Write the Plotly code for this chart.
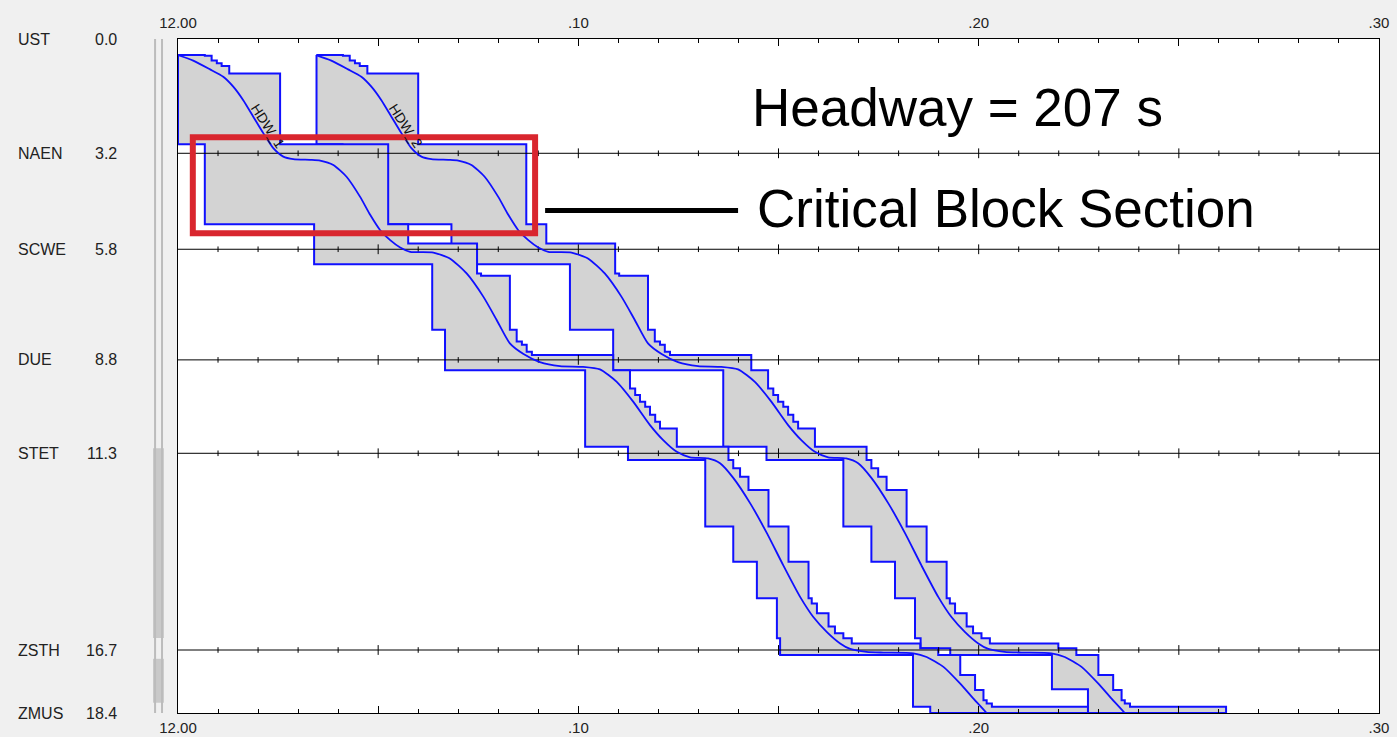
import plotly.graph_objects as go

# ---------------- data ----------------
stations = ["UST", "NAEN", "SCWE", "DUE", "STET", "ZSTH", "ZMUS"]
station_km_label = ["0.0", "3.2", "5.8", "8.8", "11.3", "16.7", "18.4"]
station_pos = [0.0, 3.12, 5.74, 8.76, 11.31, 16.68, 18.40]   # km, drawn position

time_ticks = [0, 5, 10, 15, 20, 25, 30]          # minutes after 12:00
time_tick_text = ["12.00", "", ".10", "", ".20", "", ".30"]

headway_s = 207
headway_min = headway_s / 60.0

# blocking time stairs, train HDW_1 : start of blocking (left side)
t1_left_km = [0.44, 2.87, 5.06, 6.15, 7.94, 9.04, 11.13, 11.49, 13.31, 14.27, 15.27,
              16.36, 16.82, 18.23, 18.40]
t1_left_t = [0.00, 0.67, 3.40, 6.35, 6.67, 10.17, 11.24, 13.17, 13.87, 14.46, 14.96,
             15.04, 18.36, 18.79]
# end of blocking / release (right side)
t1_right_km = [0.44, 0.46, 0.59, 0.66, 0.74, 0.94, 2.87, 5.06, 5.58, 6.40, 6.46,
               7.94, 8.26, 8.35, 8.54, 8.63, 9.04, 9.54, 9.72, 9.90, 10.04,
               10.26, 10.45, 10.63, 11.13, 11.49, 11.72, 11.95, 12.31, 13.31, 14.27,
               15.27, 15.41, 15.68, 16.04, 16.22, 16.36, 16.50, 16.63, 16.82, 17.36,
               17.77, 18.05, 18.14, 18.23, 18.40]
t1_right_t = [0.67, 0.84, 0.97, 1.09, 1.28, 2.55, 5.25, 5.75, 7.47, 7.57,
              8.29, 8.46, 8.59, 8.71, 8.84, 10.87, 11.29, 11.42, 11.54, 11.67,
              11.79, 11.92, 12.04, 12.46, 13.75, 13.87, 14.04, 14.25, 14.75, 15.25,
              15.75, 15.83, 15.96, 16.25, 16.41, 16.62, 16.83, 18.54, 18.99, 19.54,
              19.91, 20.12, 20.20, 20.33, 22.73]

# train HDW_2 : start of blocking (left side); release = train 1 + headway
t2_left_km = [0.44, 2.87, 5.06, 6.15, 7.94, 9.04, 11.13, 11.49, 13.31, 14.27, 15.27,
              16.36, 16.63, 16.82, 17.75, 18.40]
t2_left_t = [3.46, 4.11, 6.83, 9.79, 10.87, 13.62, 14.70, 16.62, 17.32, 17.91, 18.41,
             18.55, 19.29, 21.83, 22.73]

# running line of train HDW_1 (minutes, km)
run_t = [0.00, 0.38, 0.80, 1.13, 1.38, 1.63, 1.88, 2.13, 2.38, 2.63, 2.88, 3.30, 3.55,
         3.88, 4.21, 4.55, 4.80, 5.05, 5.30, 5.55, 5.80, 6.38, 6.79, 7.21, 7.63, 7.96,
         8.29, 8.63, 9.04, 9.54, 10.12, 10.54, 10.96, 11.37, 11.79, 12.12, 12.46, 12.79,
         13.24, 13.54, 13.87, 14.29, 14.71, 15.12, 15.54, 15.87, 16.21, 16.54, 16.79,
         17.20, 17.62, 18.37, 18.70, 19.12, 19.54, 19.87, 20.20]
run_km = [0.44, 0.59, 0.83, 1.03, 1.30, 1.67, 2.12, 2.57, 2.98, 3.21, 3.28, 3.30, 3.32,
          3.44, 3.76, 4.31, 4.80, 5.22, 5.49, 5.69, 5.81, 5.83, 5.99, 6.40, 7.04, 7.67,
          8.31, 8.60, 8.82, 8.93, 8.95, 9.02, 9.36, 9.90, 10.54, 10.95, 11.27, 11.42,
          11.45, 11.58, 11.98, 12.67, 13.49, 14.37, 15.23, 15.78, 16.19, 16.50, 16.65,
          16.73, 16.75, 16.77, 16.87, 17.14, 17.60, 18.01, 18.40]

train_names = ["HDW_1", "HDW_2"]
critical_section_km = (2.87, 5.06)

# track bars beside the station column (km ranges)
track_bars_km = [(11.17, 16.35), (16.92, 18.12)]

# ---------------- helpers ----------------
def stair_polygon(lkm, lt, rkm, rt):
    xs, ys = [], []
    for i, t in enumerate(lt):
        xs += [t, t]
        ys += [lkm[i], lkm[i + 1]]
    for j in range(len(rt) - 1, -1, -1):
        xs += [rt[j], rt[j]]
        ys += [rkm[j + 1], rkm[j]]
    xs.append(xs[0])
    ys.append(ys[0])
    return xs, ys

t2_right_t = [t + headway_min for t in t1_right_t]

BLUE = "#1010ff"
GREY = "#d3d3d3"
FONT = "Liberation Sans"

fig = go.Figure()

# train 2 stairs first, train 1 on top
for lkm, lt, rt in [(t2_left_km, t2_left_t, t2_right_t), (t1_left_km, t1_left_t, t1_right_t)]:
    xs, ys = stair_polygon(lkm, lt, t1_right_km, rt)
    fig.add_trace(go.Scatter(x=xs, y=ys, mode="lines", fill="toself", fillcolor=GREY,
                             line=dict(color=BLUE, width=2), hoverinfo="skip",
                             showlegend=False))

# station lines with minute ticks
inner = station_pos[1:-1]
lx, ly = [], []
for km in inner:
    lx += [0, 30, None]
    ly += [km, km, None]
fig.add_trace(go.Scatter(x=lx, y=ly, mode="lines", line=dict(color="black", width=1),
                         hoverinfo="skip", showlegend=False))
minor_x, minor_y, major_x, major_y = [], [], [], []
for km in inner:
    for m in range(1, 30):
        if m % 5 == 0:
            major_x.append(m); major_y.append(km)
        else:
            minor_x.append(m); minor_y.append(km)
fig.add_trace(go.Scatter(x=minor_x, y=minor_y, mode="markers",
                         marker=dict(symbol="line-ns", size=4, line=dict(color="black", width=1)),
                         hoverinfo="skip", showlegend=False))
fig.add_trace(go.Scatter(x=major_x, y=major_y, mode="markers",
                         marker=dict(symbol="line-ns", size=7, line=dict(color="black", width=1)),
                         hoverinfo="skip", showlegend=False))

# running lines
for k in range(2):
    fig.add_trace(go.Scatter(x=[t + k * headway_min for t in run_t], y=run_km, mode="lines",
                             line=dict(color=BLUE, width=1.8, shape="spline", smoothing=0.6),
                             hoverinfo="skip", showlegend=False))

# dummy trace for top axis
fig.add_trace(go.Scatter(x=[0, 30], y=[0, 0], xaxis="x2", mode="lines",
                         line=dict(width=0), hoverinfo="skip", showlegend=False))

annotations = []
for name, lab, km in zip(stations, station_km_label, station_pos):
    annotations.append(dict(x=-0.1349, xref="paper", y=km, yref="y", text=name,
                            xanchor="left", yanchor="middle", showarrow=False,
                            font=dict(family=FONT, size=16, color="#222")))
    annotations.append(dict(x=-0.0491, xref="paper", y=km, yref="y", text=lab,
                            xanchor="right", yanchor="middle", showarrow=False,
                            font=dict(family=FONT, size=16, color="#222")))
for k, nm in enumerate(train_names):
    annotations.append(dict(x=2.24 + k * headway_min, y=2.38, text=nm, textangle=57,
                            showarrow=False, font=dict(family=FONT, size=14, color="#111")))
annotations.append(dict(x=14.29, y=1.88, text="Headway = 207 s", xanchor="left",
                        yanchor="middle", showarrow=False,
                        font=dict(family=FONT, size=53, color="black")))
annotations.append(dict(x=14.41, y=4.62, text="Critical Block Section", xanchor="left",
                        yanchor="middle", showarrow=False,
                        font=dict(family=FONT, size=53, color="black")))

# critical block box (derived from the critical section blocks)
box_t0 = t1_left_t[1] - 0.30
box_t1 = t2_right_t[6] + 0.22
box_km0 = critical_section_km[0] - 0.19
box_km1 = critical_section_km[1] + 0.24

shapes = []
for a, b in track_bars_km:
    shapes.append(dict(type="rect", xref="paper", yref="y", x0=-0.0208, x1=-0.0117,
                       y0=a, y1=b, fillcolor="#c9c9c9", line=dict(width=0), layer="below"))
for px in (-0.0191, -0.0133):
    shapes.append(dict(type="line", xref="paper", yref="y", x0=px, x1=px, y0=-0.03, y1=18.4,
                       line=dict(color="#bcbcbc", width=2)))
shapes.append(dict(type="rect", xref="x", yref="y", x0=box_t0, x1=box_t1, y0=box_km0,
                   y1=box_km1, line=dict(color="#d9262e", width=6), layer="above"))
shapes.append(dict(type="line", xref="x", yref="y", x0=box_t1 + 0.25, x1=13.99, y0=4.68,
                   y1=4.68, line=dict(color="black", width=5), layer="above"))

axis_common = dict(range=[0, 30], tickmode="array", tickvals=time_ticks,
                   ticktext=time_tick_text, ticks="inside", ticklen=7, tickcolor="black",
                   showgrid=False, zeroline=False, automargin=False,
                   tickfont=dict(family=FONT, size=15, color="#222"),
                   minor=dict(ticks="inside", dtick=1, tick0=0, ticklen=4,
                              tickcolor="black", showgrid=False))

fig.update_layout(
    width=1397, height=737,
    margin=dict(l=178, r=18, t=39, b=24, autoexpand=False),
    paper_bgcolor="#f0f0f0", plot_bgcolor="white",
    xaxis=dict(**axis_common, showline=True, linecolor="black", linewidth=1, mirror=True,
               ticklabelstandoff=1),
    xaxis2=dict(**axis_common, overlaying="x", side="top", showline=False,
                ticklabelstandoff=7),
    yaxis=dict(range=[18.4, 0], showticklabels=False, ticks="", showgrid=False,
               zeroline=False, showline=True, linecolor="black", linewidth=1, mirror=True,
               automargin=False),
    annotations=annotations, shapes=shapes, showlegend=False, hovermode=False,
)

fig.write_html("out.html", config={"displayModeBar": False},
               post_script="document.body.style.margin='0px';"
                           "document.body.style.background='#f0f0f0';")
